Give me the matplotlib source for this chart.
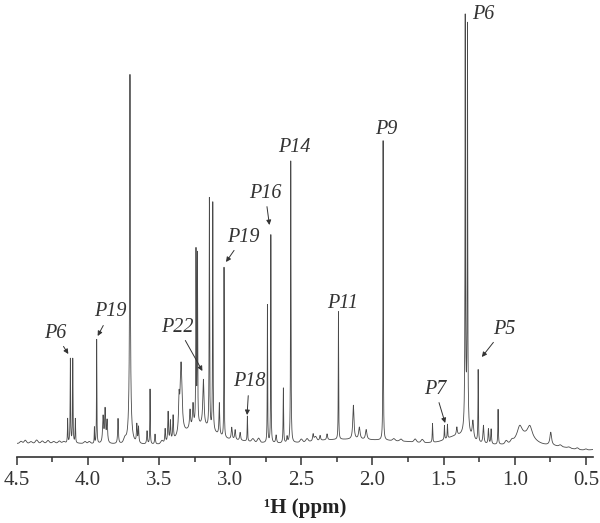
import numpy as np
import matplotlib
matplotlib.use("Agg")
import matplotlib.pyplot as plt
from matplotlib.ticker import MultipleLocator, FormatStrFormatter

# ---- spectrum data (ppm, height, half-width in ppm) ----
peak_ppm = [4.142, 4.123, 4.106, 4.088,
            3.954, 3.938, 3.893, 3.879, 3.865, 3.788,
            3.704, 3.704, 3.656, 3.644, 3.584, 3.563, 3.528,
            3.457, 3.436, 3.420, 3.401, 3.359, 3.345,
            3.282, 3.261, 3.240, 3.230, 3.188, 3.146, 3.122,
            3.076, 3.043, 2.989, 2.965, 2.930, 2.879,
            2.738, 2.714, 2.677, 2.626, 2.600, 2.574,
            2.417, 2.368, 2.319, 2.239, 2.134, 2.092, 2.044,
            1.925, 1.578, 1.494, 1.473, 1.407,
            1.348, 1.332, 1.340, 1.294, 1.257, 1.220, 1.185, 1.166, 1.117,
            0.965, 0.894, 0.747]
peak_height = [24, 84, 84, 24,
               16, 104, 26, 33, 22, 25,
               330, 40, 18, 16, 13, 55, 10,
               14, 30, 20, 24, 30, 72,
               18, 22, 172, 168, 46, 230, 228,
               32, 170, 12, 10, 8, 25,
               138, 208, 8, 55, 6, 282,
               7, 5, 6, 128, 34, 12, 10,
               300, 19, 14, 14, 8,
               400, 392, 28, 18, 72, 18, 15, 15, 35,
               12, 12, 13]
peak_hwhm = [0.0018, 0.0018, 0.0018, 0.0018,
             0.0015, 0.0015, 0.004, 0.004, 0.004, 0.003,
             0.0025, 0.010, 0.003, 0.003, 0.003, 0.0018, 0.003,
             0.003, 0.003, 0.003, 0.003, 0.004, 0.008,
             0.004, 0.004, 0.0018, 0.0018, 0.005, 0.0018, 0.0018,
             0.003, 0.0015, 0.004, 0.004, 0.004, 0.0018,
             0.0015, 0.0015, 0.004, 0.002, 0.003, 0.0018,
             0.004, 0.004, 0.004, 0.0015, 0.005, 0.006, 0.006,
             0.0015, 0.002, 0.002, 0.002, 0.004,
             0.0018, 0.0018, 0.012, 0.006, 0.0018, 0.004, 0.003, 0.003, 0.002,
             0.02, 0.02, 0.007]

# broad background components (ppm, height, width)
broad_ppm = [4.30, 3.22, 2.95, 2.30, 1.90, 1.40, 0.93, 0.50]
broad_height = [2, 18, 4, 4, 4, 8, 8, -5]
broad_width = [0.30, 0.10, 0.15, 0.20, 0.25, 0.08, 0.06, 0.12]

# small baseline ripples (ppm, height)
ripple_ppm = [4.47, 4.44, 4.40, 4.36, 4.32, 4.28, 4.24, 4.20, 4.17,
              4.02, 3.99, 3.74, 3.48, 2.84, 2.80, 2.50, 2.46, 2.40,
              1.85, 1.80, 1.70, 1.65, 1.06, 1.02, 0.68, 0.62, 0.56, 0.50]
ripple_height = [2, 3, 1.5, 3, 2, 2.5, 1.5, 2, 1.5,
                 2, 2, 4, 3, 3, 4, 3, 3, 4,
                 2, 2, 3, 3, 3, 2, 1.5, 1, 1.5, 1]

labels = ["P6", "P19", "P22", "P18", "P19", "P16", "P14", "P11", "P9", "P6", "P7", "P5"]
label_ppm = [4.232, 3.841, 3.368, 2.867, 2.907, 2.754, 2.546, 2.211, 1.906, 1.220, 1.561, 1.076]
label_int = [112, 133, 118, 63, 208, 252, 298, 141, 316, 431, 56, 116]
arrow_ppm = [4.137, 3.931, 3.195, 2.881, 3.029, 2.724, None, None, None, None, 1.489, 1.231]
arrow_int = [91, 109, 74, 30, 183, 220, None, None, None, None, 22, 88]

x_ticks = [4.5, 4.0, 3.5, 3.0, 2.5, 2.0, 1.5, 1.0, 0.5]

# ---- build the curve ----
ppm = np.linspace(4.5, 0.45, 30000)
spec = np.zeros_like(ppm)
for c, h, w in zip(peak_ppm, peak_height, peak_hwhm):
    spec += h / (1.0 + ((ppm - c) / w) ** 2)
for c, h, w in zip(broad_ppm, broad_height, broad_width):
    spec += h * np.exp(-0.5 * ((ppm - c) / w) ** 2)
for c, h in zip(ripple_ppm, ripple_height):
    spec += h * np.exp(-0.5 * ((ppm - c) / 0.008) ** 2)

plt.rcParams["font.family"] = ["Liberation Serif", "DejaVu Serif"]

fig = plt.figure(figsize=(6.0, 5.23), dpi=100)
ax = fig.add_axes([16.7 / 600, (523 - 456.7) / 523, (593 - 16.7) / 600, 456.7 / 523])
ax.plot(ppm, spec, color="#4a4a4a", lw=0.6)
ax.set_xlim(4.5, 0.45)
ax.set_ylim(-11.7, 445)

for s in ["left", "right", "top"]:
    ax.spines[s].set_visible(False)
ax.spines["bottom"].set_linewidth(1.2)
ax.spines["bottom"].set_color("#333333")
ax.set_yticks([])
ax.set_xticks(x_ticks)
ax.xaxis.set_major_formatter(FormatStrFormatter("%.1f"))
ax.xaxis.set_minor_locator(MultipleLocator(0.25))
ax.tick_params(axis="x", which="major", direction="out", length=6, width=1.1,
               color="#333333", labelsize=15, pad=4, labelcolor="#333333")
ax.tick_params(axis="x", which="minor", direction="out", length=3.6, width=1.1,
               color="#333333")
ax.set_xlabel("\u00b9H (ppm)", fontsize=15, fontweight="bold", labelpad=6, color="#222222")

for lab, lx, ly, axp, ayp in zip(labels, label_ppm, label_int, arrow_ppm, arrow_int):
    if axp is None:
        ax.text(lx, ly, lab, fontsize=14.5, style="italic", ha="center", va="center",
                color="#333333")
    else:
        ax.annotate(lab, xy=(axp, ayp), xytext=(lx, ly), fontsize=14.5, style="italic",
                    ha="center", va="center", color="#333333",
                    arrowprops=dict(arrowstyle="-|>", color="#333333", lw=0.7,
                                    mutation_scale=7, shrinkA=1, shrinkB=0))

fig.savefig("out.png", dpi=100)
